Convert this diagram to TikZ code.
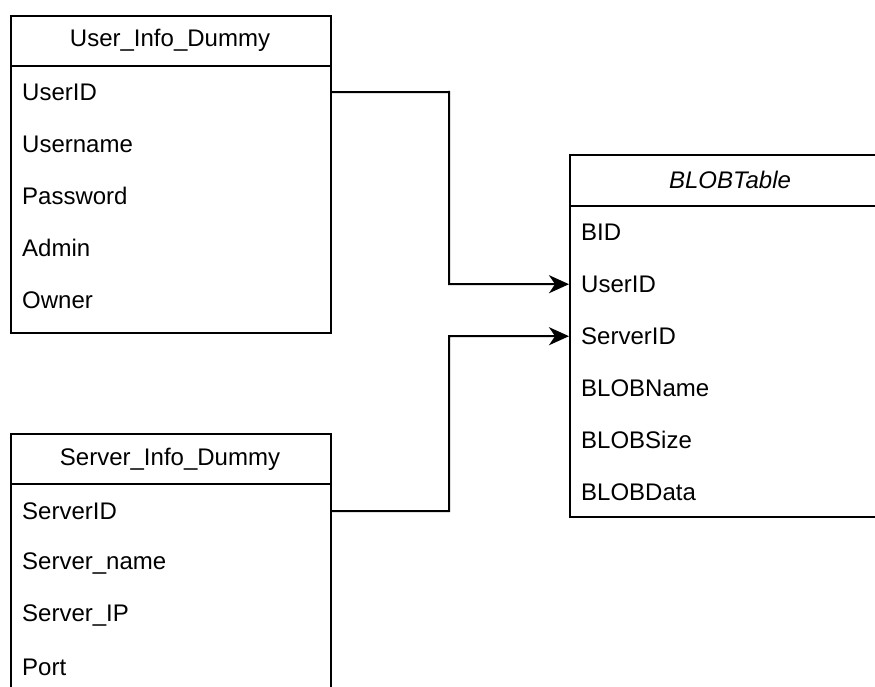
\documentclass[tikz,border=0pt]{standalone}
\usepackage{fontspec}
\setmainfont{Liberation Sans}
\usetikzlibrary{arrows.meta}
\begin{document}
\begin{tikzpicture}[x=1pt,y=-1pt,
  tbl/.style={draw=black, line width=2pt, rectangle, inner sep=0pt, anchor=north west},
  hdr/.style={font=\fontsize{24}{28}\selectfont, inner sep=0pt},
  row/.style={font=\fontsize{24}{28}\selectfont, anchor=north west, inner xsep=12pt, inner ysep=0pt,
    text width=296pt, align=left, minimum height=52pt},
  conn/.style={line width=2pt, -{Stealth[length=20pt,width=18pt,inset=6pt]}}]
\useasboundingbox (0,0) rectangle (875,687);
\begin{scope}
\clip (0,0) rectangle (875,687);
% User_Info_Dummy
\node[tbl, minimum width=320pt, minimum height=317pt] (user) at (10,15) {};
\draw[line width=2pt] (10,66) -- (330,66);
\node[hdr] (userh) at (170,40) {User\_Info\_Dummy};
\node[row] (uUserID) at (10,66) {UserID};
\node[row] (uUsername) at (10,118) {Username};
\node[row] (uPassword) at (10,170) {Password};
\node[row] (uAdmin) at (10,222) {Admin};
\node[row] (uOwner) at (10,274) {Owner};
% Server_Info_Dummy
\node[tbl, minimum width=320pt, minimum height=300pt] (server) at (10,433) {};
\draw[line width=2pt] (10,484) -- (330,484);
\node[hdr] (serverh) at (170,459) {Server\_Info\_Dummy};
\node[row] (sServerID) at (10,485) {ServerID};
\node[row] (sServername) at (10,537) {Server\_name};
\node[row] (sServerIP) at (10,589) {Server\_IP};
\node[row] (sPort) at (10,641) {Port};
% BLOBTable
\node[tbl, minimum width=322pt, minimum height=362pt] (blob) at (569,154) {};
\draw[line width=2pt] (569,206) -- (891,206);
\node[hdr, font=\fontsize{24}{28}\selectfont\itshape] (blobh) at (730,180) {BLOBTable};
\node[row] (bBID) at (569,206) {BID};
\node[row] (bUserID) at (569,258) {UserID};
\node[row] (bServerID) at (569,310) {ServerID};
\node[row] (bBLOBName) at (569,362) {BLOBName};
\node[row] (bBLOBSize) at (569,414) {BLOBSize};
\node[row] (bBLOBData) at (569,466) {BLOBData};
\end{scope}
% connectors
\coordinate (j1) at (449,92);
\coordinate (j2) at (449,511);
\draw[conn] (uUserID.east) -- (j1) |- (bUserID.west);
\draw[conn] (sServerID.east) -- (j2) |- (bServerID.west);
\end{tikzpicture}
\end{document}
